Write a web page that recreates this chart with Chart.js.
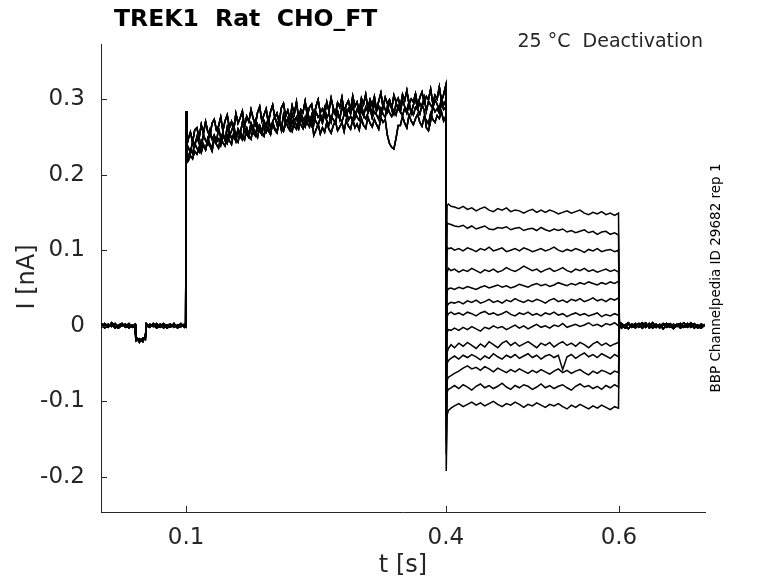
<!DOCTYPE html>
<html>
<head>
<meta charset="utf-8">
<script src="https://cdn.jsdelivr.net/npm/chart.js@4.4.1/dist/chart.umd.min.js"></script>
<style>
  body { margin: 0; background: #fff; }
  canvas { display: block; }
</style>
</head>
<body>
<canvas id="myChart" width="778" height="583" style="width:778px;height:583px"></canvas>
<script>
// time points in ms, currents in pA (converted to s / nA when building datasets)
const tPre = [2, 6, 10, 14, 18, 22, 26, 30, 34, 38, 41, 42, 46, 50, 53, 54, 58, 62, 66, 70, 74, 78, 82, 86, 90, 94, 98, 99.5];
const tAct = [100, 101, 102.5, 105, 107.5, 110, 112.5, 115, 117.5, 120,
  122.5, 125, 127.5, 130, 132.5, 135, 137.5, 140, 142.5, 145,
  147.5, 150, 152.5, 155, 157.5, 160, 162.5, 165, 167.5, 170,
  172.5, 175, 177.5, 180, 182.5, 185, 187.5, 190, 192.5, 195,
  197.5, 200, 202.5, 205, 207.5, 210, 212.5, 215, 217.5, 220,
  222.5, 225, 227.5, 230, 232.5, 235, 237.5, 240, 242.5, 245,
  247.5, 250, 252.5, 255, 257.5, 260, 262.5, 265, 267.5, 270,
  272.5, 275, 277.5, 280, 282.5, 285, 287.5, 290, 292.5, 295,
  297.5, 300, 302.5, 305, 307.5, 310, 312.5, 315, 317.5, 320,
  322.5, 325, 327.5, 330, 332.5, 335, 337.5, 340, 342.5, 345,
  347.5, 350, 352.5, 355, 357.5, 360, 362.5, 365, 367.5, 370,
  372.5, 375, 377.5, 380, 382.5, 385, 387.5, 390, 392.5, 395,
  397.5, 400];
const tDeact = [400.5, 401.5, 403, 406, 410, 415, 420, 425, 430, 435, 440, 445, 450, 455, 460, 465, 470, 475, 480, 485,
  490, 495, 500, 505, 510, 515, 520, 525, 530, 535, 540, 545, 550, 555, 560, 565, 570, 575, 580, 585, 590, 595, 599.5];
const tPost = [600.5, 603, 607, 611, 615, 619, 623, 627, 631, 635, 639, 643, 647, 651, 655, 659, 663, 667, 671, 675,
  679, 683, 687, 691, 695, 699];

// holding before the prepulse
const pre0 = [-2, 3, -1, 2, -3, 1, 3, -2, 1, -1, 2, -16, -19, -18, -15, 1, -2, 3, -1, 2, -3, 1, 2, -2, 1, -1, 2, 0];
const pre1 = [1, -3, 2, -1, 3, -2, 0, 2, -3, 1, -1, -20, -17, -21, -13, -2, 2, -1, 3, -2, 1, -3, 0, 2, -1, 3, -2, 1];
const pre2 = [3, 0, -2, 4, -1, -3, 2, -1, 3, -2, 0, -14, -22, -16, -18, 3, -1, 1, -3, 0, 3, -1, -2, 3, -3, 0, 1, -1];

// activating prepulse 0.1 - 0.4 s
const act1 = [284, 240, 247, 256, 243, 259, 262, 248, 266, 254,
  270, 257, 251, 268, 273, 259, 264, 276, 258, 271,
  279, 262, 270, 258, 281, 268, 275, 284, 263, 277,
  270, 286, 274, 266, 282, 290, 271, 279, 287, 268,
  283, 292, 275, 281, 269, 288, 294, 277, 285, 273,
  291, 280, 296, 274, 286, 282, 297, 278, 289, 293,
  276, 290, 299, 282, 287, 279, 296, 284, 301, 288,
  280, 295, 289, 302, 283, 292, 298, 285, 304, 290,
  296, 283, 301, 293, 306, 287, 299, 291, 303, 285,
  297, 308, 289, 302, 294, 299, 287, 305, 296, 301,
  290, 306, 298, 311, 293, 300, 296, 307, 291, 302,
  309, 295, 303, 299, 313, 294, 305, 300, 316, 297,
  306, 318];
const act2 = [276, 232, 236, 229, 244, 238, 250, 241, 235, 253,
  245, 240, 258, 247, 252, 243, 261, 249, 255, 246,
  263, 251, 258, 266, 249, 260, 254, 269, 257, 262,
  253, 268, 261, 272, 259, 265, 257, 271, 264, 275,
  262, 270, 277, 266, 273, 259, 279, 268, 274, 265,
  280, 271, 276, 263, 282, 274, 269, 285, 272, 278,
  267, 283, 276, 280, 272, 288, 275, 281, 270, 286,
  279, 284, 273, 290, 282, 277, 287, 280, 292, 275,
  286, 281, 294, 278, 289, 283, 291, 277, 296, 284,
  290, 279, 293, 286, 282, 297, 288, 280, 294, 287,
  283, 298, 290, 285, 296, 281, 292, 300, 287, 294,
  289, 302, 284, 297, 292, 288, 299, 293, 286, 301,
  292, 298];
const act3 = [268, 226, 222, 233, 228, 241, 235, 230, 245, 238,
  233, 248, 240, 236, 251, 243, 247, 239, 254, 245,
  241, 256, 248, 252, 244, 259, 250, 246, 261, 253,
  249, 264, 255, 251, 266, 258, 253, 268, 256, 262,
  254, 269, 261, 257, 272, 263, 259, 266, 274, 262,
  257, 271, 265, 260, 276, 267, 263, 273, 269, 264,
  278, 270, 265, 275, 268, 280, 271, 266, 277, 273,
  268, 282, 274, 270, 279, 285, 272, 277, 271, 283,
  276, 272, 286, 278, 274, 281, 288, 275, 283, 279,
  273, 287, 280, 276, 290, 282, 277, 285, 279, 291,
  283, 278, 288, 281, 293, 284, 279, 289, 286, 280,
  292, 285, 262, 258, 271, 290, 283, 287, 281, 294,
  286, 289];
const act4 = [260, 216, 218, 225, 221, 231, 227, 236, 229, 240,
  233, 244, 238, 231, 247, 240, 235, 250, 242, 238,
  252, 245, 240, 255, 247, 243, 257, 250, 246, 260,
  251, 247, 262, 254, 249, 264, 256, 251, 266, 258,
  253, 268, 259, 255, 270, 261, 257, 272, 263, 258,
  271, 264, 260, 274, 266, 261, 275, 268, 263, 277,
  252, 259, 267, 254, 262, 256, 269, 260, 255, 265,
  271, 258, 263, 269, 257, 272, 264, 260, 273, 262,
  267, 259, 274, 265, 261, 276, 268, 263, 273, 266,
  260, 275, 269, 273, 252, 241, 236, 234, 248, 265,
  265, 277, 268, 262, 279, 271, 266, 274, 280, 269,
  264, 276, 272, 267, 281, 273, 269, 278, 274, 283,
  271, 277];

// deactivation steps 0.4 - 0.6 s, one per sweep
const deact = [
  [60, 159, 161, 158, 157, 155, 158, 154, 156, 152, 155, 157, 153, 151, 155, 153, 156, 151, 153, 152, 149, 152, 154, 150, 153, 150, 153, 151, 148, 150, 152, 149, 151, 153, 149, 147, 150, 148, 151, 147, 149, 146, 149, 147],
  [30, 136, 135, 134, 132, 131, 133, 129, 132, 128, 130, 132, 128, 127, 130, 129, 131, 127, 129, 130, 126, 128, 129, 126, 130, 127, 125, 128, 126, 128, 124, 126, 123, 125, 127, 123, 125, 121, 124, 125, 121, 123, 120, 122],
  [0, 104, 102, 103, 100, 102, 99, 103, 101, 98, 102, 100, 104, 99, 101, 103, 98, 100, 102, 99, 103, 101, 98, 100, 102, 99, 101, 104, 100, 98, 101, 99, 102, 100, 97, 101, 99, 102, 98, 100, 101, 98, 100, 99],
  [-20, 70, 76, 73, 75, 71, 74, 72, 76, 73, 70, 74, 72, 75, 71, 73, 77, 74, 72, 75, 79, 76, 73, 75, 71, 74, 76, 72, 74, 77, 73, 71, 75, 73, 76, 72, 74, 71, 73, 75, 72, 74, 71, 73],
  [-45, 46, 49, 50, 48, 51, 49, 52, 50, 48, 51, 53, 50, 52, 54, 51, 53, 50, 52, 55, 53, 51, 54, 56, 53, 55, 52, 54, 57, 55, 53, 56, 54, 57, 55, 58, 56, 54, 57, 55, 58, 56, 59, 57],
  [-60, 26, 29, 31, 30, 32, 29, 33, 31, 34, 30, 32, 35, 31, 33, 30, 34, 32, 36, 33, 31, 34, 32, 35, 33, 30, 34, 36, 32, 34, 31, 35, 33, 36, 32, 34, 37, 33, 35, 32, 36, 34, 37, 35],
  [-80, 12, 16, 18, 15, 17, 14, 18, 16, 13, 17, 19, 15, 17, 14, 16, 19, 15, 13, 17, 15, 18, 14, 16, 13, 17, 15, 18, 14, 16, 12, 15, 17, 14, 16, 13, 15, 17, 12, 15, 13, 16, 14, 12],
  [-100, -9, -5, -6, -3, -6, -2, -5, -1, -4, -7, -2, -4, 0, -3, -1, -5, -2, 1, -3, 0, -4, -1, 2, -2, 0, -3, 1, -1, 3, -2, 0, 2, -1, 1, 4, 0, 2, -1, 3, 1, 4, 0, 2],
  [-120, -35, -30, -25, -29, -23, -27, -22, -26, -30, -24, -28, -21, -25, -29, -23, -20, -26, -22, -27, -24, -21, -25, -29, -23, -26, -22, -28, -24, -21, -26, -23, -27, -22, -25, -29, -24, -21, -26, -23, -27, -24, -22, -25],
  [-135, -50, -46, -43, -40, -44, -39, -42, -38, -41, -45, -40, -43, -37, -41, -44, -39, -42, -38, -43, -40, -37, -42, -39, -44, -40, -38, -42, -39, -58, -41, -38, -43, -39, -36, -41, -38, -42, -37, -40, -43, -38, -41, -39],
  [-155, -72, -68, -66, -63, -60, -56, -53, -57, -55, -59, -54, -57, -61, -56, -59, -62, -58, -61, -57, -60, -63, -59, -62, -58, -61, -64, -60, -57, -62, -59, -63, -60, -58, -62, -65, -60, -63, -59, -61, -64, -60, -62, -59],
  [-170, -88, -84, -82, -79, -83, -78, -81, -85, -80, -77, -82, -79, -83, -80, -76, -81, -84, -79, -82, -78, -80, -84, -81, -77, -82, -79, -83, -80, -78, -82, -85, -80, -77, -81, -79, -83, -80, -84, -79, -82, -78, -81, -80],
  [-192, -118, -112, -109, -106, -103, -107, -104, -101, -105, -102, -106, -103, -100, -104, -107, -103, -105, -101, -104, -108, -104, -106, -102, -105, -108, -104, -106, -103, -107, -110, -105, -108, -104, -107, -110, -106, -109, -105, -108, -111, -107, -109, -106]
];

// back to holding
const post0 = [2, -3, 1, 4, -2, 0, 3, -3, 1, -1, 4, -2, 2, -4, 1, 3, -1, 2, -3, 0, 3, -2, 1, -3, 2, 0];
const post1 = [-2, 3, -1, -4, 2, -3, 1, 4, -2, 3, -3, 1, -1, 3, -2, 0, -4, 1, 3, -2, 0, 4, -3, 1, -1, 2];
const post2 = [5, 1, -3, 2, 0, 3, -2, 1, 4, -3, 0, 2, -3, 1, 3, -2, 2, -1, 0, 4, -2, 1, 3, -1, -3, 1];

const xTicks = [0.1, 0.4, 0.6];
const xTickLabels = ['0.1', '0.4', '0.6'];
const yTicks = [-0.2, -0.1, 0, 0.1, 0.2, 0.3];
const yTickLabels = ['-0.2', '-0.1', '0', '0.1', '0.2', '0.3'];

const titleText = 'TREK1  Rat  CHO_FT';
const condText = '25 °C  Deactivation';
const sideText = 'BBP Channelpedia ID 29682 rep 1';

const pres = [pre0, pre1, pre2];
const acts = [act1, act2, act3, act4];
const posts = [post0, post1, post2];

function seg(ts, vs) {
  return ts.map((t, i) => ({ x: t / 1000, y: vs[i] / 1000 }));
}

let datasets = deact.map((d, k) => ({
  data: [].concat(
    seg(tPre, pres[k % 3]),
    seg(tAct, acts[k % 4]),
    seg(tDeact, d),
    seg(tPost, posts[k % 3])
  ),
  borderColor: '#000',
  borderWidth: 1.5,
  pointRadius: 0,
  tension: 0,
  fill: false
}));

const axisColor = '#262626';

const decorations = {
  id: 'decorations',
  afterDraw(chart) {
    const c = chart.ctx;
    const xs = chart.scales.x, ys = chart.scales.y;
    const a = chart.chartArea;
    c.save();
    // inward ticks
    c.strokeStyle = axisColor;
    c.lineWidth = 1;
    c.beginPath();
    xTicks.forEach(v => {
      const px = Math.round(xs.getPixelForValue(v)) + 0.5;
      c.moveTo(px, a.bottom); c.lineTo(px, a.bottom - 6);
    });
    yTicks.forEach(v => {
      const py = Math.round(ys.getPixelForValue(v)) + 0.5;
      c.moveTo(a.left, py); c.lineTo(a.left + 6, py);
    });
    c.stroke();

    c.fillStyle = '#000';
    c.font = 'bold 23.5px "DejaVu Sans"';
    c.textAlign = 'left';
    c.textBaseline = 'alphabetic';
    c.fillText(titleText, 114, 26);

    c.fillStyle = axisColor;
    c.font = '19px "DejaVu Sans"';
    c.textAlign = 'right';
    c.fillText(condText, 703, 47);

    c.font = '24px "DejaVu Sans"';
    c.textAlign = 'center';
    c.textBaseline = 'middle';
    c.fillText('t [s]', 403, 566);

    c.translate(28, 277);
    c.rotate(-Math.PI / 2);
    c.fillText('I [nA]', 0, 0);
    c.restore();

    c.save();
    c.fillStyle = '#000';
    c.font = '13.5px "DejaVu Sans"';
    c.textAlign = 'center';
    c.textBaseline = 'middle';
    c.translate(716, 278);
    c.rotate(-Math.PI / 2);
    c.fillText(sideText, 0, 0);
    c.restore();
  }
};

new Chart(document.getElementById('myChart'), {
  type: 'line',
  data: { datasets: datasets },
  options: {
    responsive: false,
    animation: false,
    devicePixelRatio: 1,
    layout: { padding: { left: 0, right: 73, top: 44, bottom: 0 } },
    plugins: { legend: { display: false }, tooltip: { enabled: false } },
    scales: {
      x: {
        type: 'linear',
        min: 0.0017,
        max: 0.6994,
        afterBuildTicks: axis => { axis.ticks = xTicks.map(v => ({ value: v })); },
        afterFit: axis => { axis.height = 71; },
        grid: { display: false, drawTicks: false },
        border: { display: true, color: axisColor, width: 1 },
        ticks: {
          color: axisColor,
          font: { family: 'DejaVu Sans', size: 23 },
          padding: 12,
          maxRotation: 0,
          callback: (v, i) => xTickLabels[i]
        }
      },
      y: {
        type: 'linear',
        min: -0.2463,
        max: 0.3727,
        afterBuildTicks: axis => { axis.ticks = yTicks.map(v => ({ value: v })); },
        afterFit: axis => { axis.width = 101; },
        grid: { display: false, drawTicks: false },
        border: { display: true, color: axisColor, width: 1 },
        ticks: {
          color: axisColor,
          font: { family: 'DejaVu Sans', size: 23 },
          padding: 16,
          callback: (v, i) => yTickLabels[i]
        }
      }
    }
  },
  plugins: [decorations]
});
</script>
</body>
</html>
